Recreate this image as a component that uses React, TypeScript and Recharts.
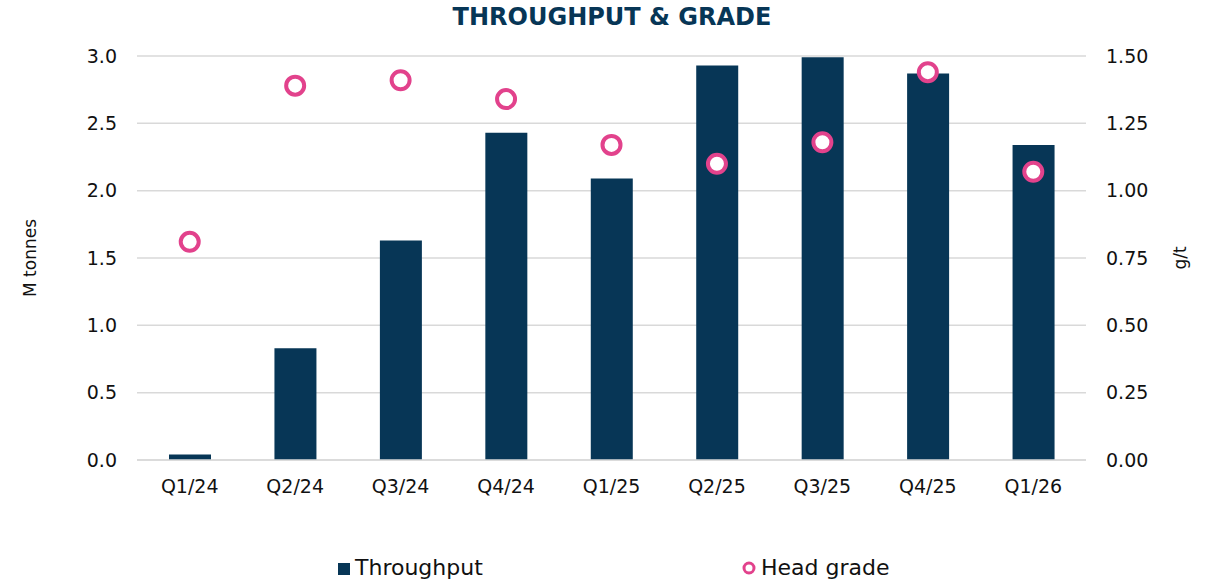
import {
  Bar,
  CartesianGrid,
  ComposedChart,
  Line,
  XAxis,
  YAxis
} from "recharts"

const quarters = ["Q1/24", "Q2/24", "Q3/24", "Q4/24", "Q1/25", "Q2/25", "Q3/25", "Q4/25", "Q1/26"]
const throughput = [0.04, 0.83, 1.63, 2.43, 2.09, 2.93, 2.99, 2.87, 2.34]
const headGrade = [0.81, 1.39, 1.41, 1.34, 1.17, 1.10, 1.18, 1.44, 1.07]
const tonnesTicks = [0, 0.5, 1.0, 1.5, 2.0, 2.5, 3.0]
const gradeTicks = [0, 0.25, 0.5, 0.75, 1.0, 1.25, 1.5]

const NAVY = "#073656"
const PINK = "#e2428c"
const FONT = "'DejaVu Sans', 'Noto Sans', sans-serif"

const data = quarters.map((q, i) => ({
  quarter: q,
  throughput: throughput[i],
  grade: headGrade[i]
}))

const tickStyle = { fill: "#111", fontSize: 19, fontFamily: FONT }

const GradeDot = (props: any) => {
  const { cx, cy } = props
  if (cx == null || cy == null) return null
  return <circle cx={cx} cy={cy} r={9} fill="#fff" stroke={PINK} strokeWidth={4} />
}

const LeftTitle = (props: any) => {
  const vb = props.viewBox
  const cy = vb.y + vb.height / 2
  return (
    <text x={30} y={cy} transform={`rotate(-90, 30, ${cy})`} textAnchor="middle"
      dominantBaseline="central" fontSize={17} fontFamily={FONT} fill="#111">
      M tonnes
    </text>
  )
}

const RightTitle = (props: any) => {
  const vb = props.viewBox
  const cy = vb.y + vb.height / 2
  return (
    <text x={1180} y={cy} transform={`rotate(-90, 1180, ${cy})`} textAnchor="middle"
      dominantBaseline="central" fontSize={17} fontFamily={FONT} fill="#111">
      g/t
    </text>
  )
}

export default function App() {
  return (
    <div style={{ position: "fixed", top: 0, left: 0, width: 1211, height: 581, background: "#fff", fontFamily: FONT }}>
      <ComposedChart
        width={1211}
        height={581}
        data={data}
        margin={{ top: 56, right: 0, left: 0, bottom: 81 }}
      >
        <CartesianGrid vertical={false} stroke="#d9d9d9" strokeWidth={1.5} yAxisId="left" />
        <XAxis
          dataKey="quarter"
          height={40}
          axisLine={{ stroke: "#d9d9d9", strokeWidth: 1.5 }}
          tickLine={false}
          tickSize={0}
          tickMargin={20}
          tick={tickStyle}
        />
        <YAxis
          yAxisId="left"
          width={137}
          domain={[0, 3]}
          ticks={tonnesTicks}
          tickFormatter={(v: number) => v.toFixed(1)}
          axisLine={false}
          tickLine={false}
          tickSize={0}
          tickMargin={20}
          tick={tickStyle}
          label={<LeftTitle />}
        />
        <YAxis
          yAxisId="right"
          orientation="right"
          width={125}
          domain={[0, 1.5]}
          ticks={gradeTicks}
          tickFormatter={(v: number) => v.toFixed(2)}
          axisLine={false}
          tickLine={false}
          tickSize={0}
          tickMargin={20}
          tick={{ ...tickStyle, textAnchor: "start" }}
          label={<RightTitle />}
        />
        <Bar
          yAxisId="left"
          dataKey="throughput"
          fill={NAVY}
          barSize={42}
          isAnimationActive={false}
        />
        <Line
          yAxisId="right"
          dataKey="grade"
          stroke="none"
          dot={<GradeDot />}
          activeDot={false}
          isAnimationActive={false}
        />
      </ComposedChart>

      {/* title and legend drawn on top */}
      <svg width={1211} height={581} style={{ position: "absolute", top: 0, left: 0, pointerEvents: "none" }}>
        <text x={612} y={25} textAnchor="middle" fontSize={24} fontWeight={700} fontFamily={FONT} fill={NAVY}>
          THROUGHPUT &amp; GRADE
        </text>
        <rect x={338} y={563} width={12} height={12} fill={NAVY} />
        <text x={355} y={575} fontSize={22} fontFamily={FONT} fill="#111">Throughput</text>
        <circle cx={749} cy={568} r={5} fill="#fff" stroke={PINK} strokeWidth={3} />
        <text x={761} y={575} fontSize={22} fontFamily={FONT} fill="#111">Head grade</text>
      </svg>
    </div>
  )
}
